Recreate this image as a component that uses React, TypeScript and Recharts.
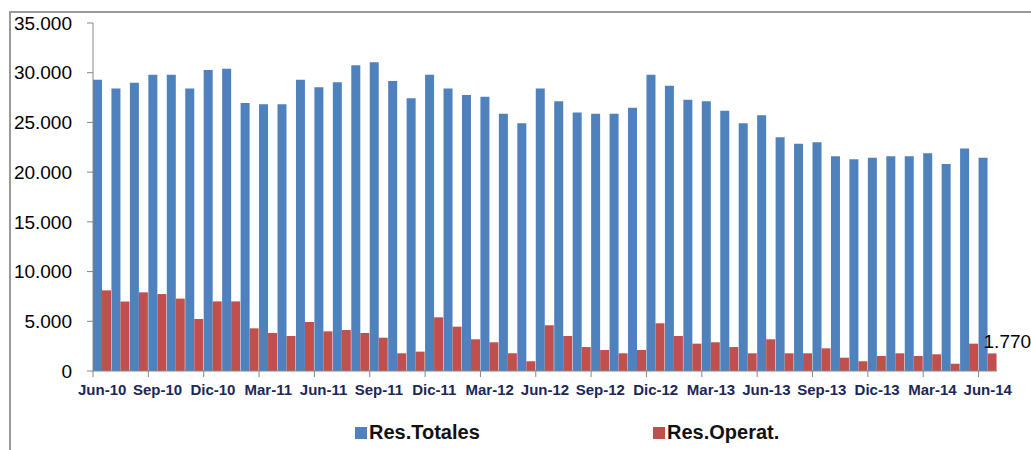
import { Bar, BarChart, LabelList, XAxis, YAxis } from 'recharts'

const months = [
  'Jun-10', 'Jul-10', 'Ago-10', 'Sep-10', 'Oct-10', 'Nov-10', 'Dic-10', 'Ene-11', 'Feb-11', 'Mar-11',
  'Abr-11', 'May-11', 'Jun-11', 'Jul-11', 'Ago-11', 'Sep-11', 'Oct-11', 'Nov-11', 'Dic-11', 'Ene-12',
  'Feb-12', 'Mar-12', 'Abr-12', 'May-12', 'Jun-12', 'Jul-12', 'Ago-12', 'Sep-12', 'Oct-12', 'Nov-12',
  'Dic-12', 'Ene-13', 'Feb-13', 'Mar-13', 'Abr-13', 'May-13', 'Jun-13', 'Jul-13', 'Ago-13', 'Sep-13',
  'Oct-13', 'Nov-13', 'Dic-13', 'Ene-14', 'Feb-14', 'Mar-14', 'Abr-14', 'May-14', 'Jun-14',
]

const resTotales = [
  29300, 28400, 29000, 29800, 29800, 28400, 30270, 30400, 26950, 26820,
  26820, 29300, 28530, 29030, 30740, 31040, 29170, 27420, 29800, 28400,
  27760, 27590, 25880, 24910, 28400, 27120, 26010, 25880, 25880, 26480,
  29800, 28700, 27290, 27120, 26180, 24910, 25710, 23500, 22860, 23000,
  21590, 21290, 21460, 21590, 21590, 21890, 20820, 22390, 21460,
]

const resOperat = [
  8110, 7000, 7910, 7740, 7280, 5230, 7000, 7000, 4290, 3820,
  3520, 4930, 3990, 4120, 3820, 3350, 1780, 1950, 5400, 4460,
  3190, 2890, 1780, 980, 4600, 3520, 2410, 2110, 1780, 2110,
  4800, 3520, 2750, 2890, 2410, 1780, 3190, 1780, 1780, 2280,
  1340, 980, 1510, 1780, 1510, 1680, 730, 2750, 1770,
]

const yTicks = [0, 5000, 10000, 15000, 20000, 25000, 30000, 35000]

const BLUE = '#4F81BD'
const RED = '#C0504D'
const AXIS = '#868686'
const FONT = '"Liberation Sans", Arial, sans-serif'

const PLOT_LEFT = 93
const PLOT_RIGHT = 997
const BAND = (PLOT_RIGHT - PLOT_LEFT) / months.length

const data = months.map((month, i) => ({
  month,
  totales: resTotales[i],
  operat: resOperat[i],
}))

function fmtThousands(v: number) {
  return String(v).replace(/\B(?=(\d{3})+(?!\d))/g, '.')
}

function MonthTick(props: any) {
  const { x, y, payload } = props
  const left = x - BAND / 2
  return (
    <g>
      <line x1={left} x2={left} y1={y} y2={y + 6} stroke={AXIS} strokeWidth={1} />
      <text x={x} y={y + 24} textAnchor="middle" fontSize={15} fontWeight={700} fill="#1C2759" fontFamily={FONT}>
        {payload.value}
      </text>
    </g>
  )
}

function LastLabel(props: any) {
  const { x, y, index, value } = props
  if (index !== months.length - 1) return null
  return (
    <text x={x - 4} y={y - 5} fontSize={19} fill="#000" fontFamily={FONT}>
      {fmtThousands(Number(value))}
    </text>
  )
}

function LegendItem({ color, label, left }: { color: string; label: string; left: number }) {
  return (
    <div style={{ position: 'absolute', left, top: 421, display: 'flex', alignItems: 'center', fontFamily: FONT }}>
      <div style={{ width: 12, height: 12, background: color, marginRight: 2 }} />
      <span style={{ fontSize: 20, fontWeight: 700, color: '#111' }}>{label}</span>
    </div>
  )
}

export default function App() {
  return (
    <div style={{ position: 'absolute', left: 0, top: 0, width: 1031, height: 450, background: '#fff', overflow: 'hidden' }}>
      <div
        style={{
          position: 'absolute',
          left: 9,
          top: 11,
          width: 1100,
          height: 500,
          borderLeft: '2px solid #9a9a9a',
          borderTop: '2px solid #9a9a9a',
        }}
      />
      <div style={{ position: 'absolute', left: 0, top: 0 }}>
        <BarChart
          width={1031}
          height={450}
          data={data}
          margin={{ top: 23, right: 1031 - PLOT_RIGHT, bottom: 0, left: 0 }}
          barCategoryGap={0}
          barGap={0}
        >
          <XAxis
            dataKey="month"
            interval={2}
            tickLine={false}
            tickSize={0}
            tickMargin={0}
            axisLine={{ stroke: AXIS, strokeWidth: 1 }}
            tick={<MonthTick />}
            height={79}
          />
          <YAxis
            domain={[0, 35000]}
            ticks={yTicks}
            width={PLOT_LEFT}
            tickSize={6}
            tickMargin={15}
            tickFormatter={(v: number) => fmtThousands(v)}
            tick={{ fontSize: 19, fill: '#000', fontFamily: FONT }}
            axisLine={{ stroke: AXIS, strokeWidth: 1 }}
            tickLine={{ stroke: AXIS, strokeWidth: 1 }}
          />
          <Bar dataKey="totales" fill={BLUE} isAnimationActive={false} />
          <Bar dataKey="operat" fill={RED} isAnimationActive={false}>
            <LabelList dataKey="operat" content={<LastLabel />} />
          </Bar>
        </BarChart>
      </div>
      <LegendItem color={BLUE} label="Res.Totales" left={355} />
      <LegendItem color={RED} label="Res.Operat." left={653} />
    </div>
  )
}
